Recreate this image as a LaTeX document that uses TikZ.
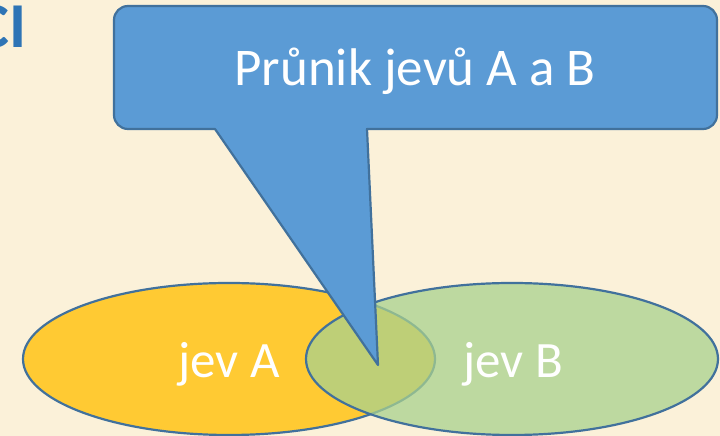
\documentclass[tikz,border=0pt]{standalone}
\usepackage{fontspec}
\setmainfont{Carlito}
\usetikzlibrary{shapes.geometric}
\definecolor{cream}{HTML}{FBF1D9}
\definecolor{edgeblue}{HTML}{41719C}
\definecolor{fillblue}{HTML}{5B9BD5}
\definecolor{gold}{HTML}{FFCA33}
\definecolor{leaf}{HTML}{A9D18E}
\definecolor{titleblue}{HTML}{2E74B5}
\tikzset{
  jev/.style={ellipse,draw=edgeblue,line width=2.2pt,minimum width=412pt,minimum height=152pt,inner sep=0pt},
  white text/.style={text=white,inner sep=0pt,anchor=base},
}
\begin{document}
\begin{tikzpicture}[x=1pt,y=1pt]
\fill[cream](0,0)rectangle(720,436);
\useasboundingbox(0,0)rectangle(720,436);
\clip(0,0)rectangle(720,436);
% cut-off heading
\node[anchor=base east,inner sep=0pt,text=titleblue,font=\fontsize{64}{64}\selectfont\bfseries](head)at(27,388){CI};
% the two events
\node[jev,fill=gold](jevA)at(229,77){};
\node[jev,fill=leaf,fill opacity=0.75](jevB)at(512,77){};
\node[white text,font=\fontsize{51}{51}\selectfont](txtA)at(229,58){jev A};
\node[white text,font=\fontsize{51}{51}\selectfont](txtB)at(513,58){jev B};
% callout
\coordinate(tip)at(378,71);
\draw[fill=fillblue,draw=edgeblue,line width=2.2pt,line join=round]
  (215,307)--(tip)--(367,307)[rounded corners=14pt]--(717,307)--(717,430)--(114,430)--(114,307)[sharp corners]--cycle;
\node[white text,font=\fontsize{53}{53}\selectfont](title)at(415,350){Průnik jevů A a B};
\end{tikzpicture}
\end{document}
